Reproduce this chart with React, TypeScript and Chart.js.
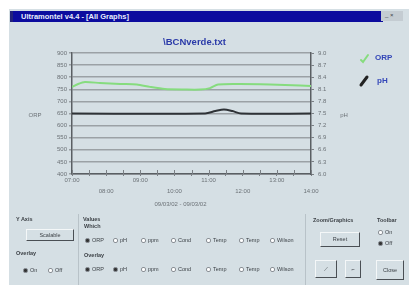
import React, { useEffect, useRef } from "react";
import { Chart, registerables } from "chart.js";
Chart.register(...registerables);

const windowTitle = "Ultramontel v4.4 - [All Graphs]";
const chartTitle = "\\BCNverde.txt";
const dateRange = "09/03/02 - 09/03/02";
const hourLabels = ["07:00", "08:00", "09:00", "10:00", "11:00", "12:00", "13:00", "14:00"];
const seriesNames = ["ORP", "pH"];
const orpTimes = [7.0, 7.18, 7.38, 7.82, 8.41, 8.9, 9.28, 9.72, 10.31, 10.75, 11.04, 11.28, 11.92, 12.8, 13.68, 14.0];
const orpValues = [760, 772, 780, 776, 772, 770, 760, 751, 749, 749, 755, 770, 772, 770, 766, 764];
const phTimes = [7.0, 10.9, 11.2, 11.45, 11.7, 11.95, 14.0];
const phValues = [7.5, 7.5, 7.56, 7.6, 7.56, 7.5, 7.5];
const orpRange = [400, 900, 50];
const phRange = [6.0, 9.0, 0.3];
const whichOptions = ["ORP", "pH", "ppm", "Cond", "Temp", "Temp", "Wilson"];

const BG = "#d5dfe4";
const FONT = '"Liberation Sans", Arial, sans-serif';

const overlayPlugin = {
  id: "overlay",
  afterDraw(chart: any) {
    const { ctx, chartArea: a, scales } = chart;
    ctx.save();
    const xs = scales.x;
    ctx.strokeStyle = "#7a7f84";
    ctx.lineWidth = 1;
    xs.ticks.forEach((t: any) => {
      const px = Math.round(xs.getPixelForValue(t.value)) + 0.5;
      ctx.beginPath();
      ctx.moveTo(px, a.bottom - 4);
      ctx.lineTo(px, a.bottom);
      ctx.stroke();
    });
    ctx.fillStyle = "#2a3aa8";
    ctx.font = `bold 9.5px ${FONT}`;
    ctx.textAlign = "center";
    ctx.textBaseline = "middle";
    ctx.fillText(chartTitle, (a.left + a.right) / 2 + 3, a.top - 11);
    ctx.fillStyle = "#6c7277";
    ctx.font = `6px ${FONT}`;
    const midY = (a.top + a.bottom) / 2 + 2;
    ctx.fillText(seriesNames[0], a.left - 37, midY);
    ctx.fillText(seriesNames[1], a.right + 33, midY);
    const lx = a.right + 50;
    ctx.lineCap = "round";
    ctx.strokeStyle = "#86dc7e";
    ctx.lineWidth = 2;
    ctx.beginPath();
    ctx.moveTo(lx, a.top + 7);
    ctx.lineTo(lx + 2, a.top + 9);
    ctx.lineTo(lx + 7, a.top + 2);
    ctx.stroke();
    ctx.strokeStyle = "#222";
    ctx.lineWidth = 3;
    ctx.beginPath();
    ctx.moveTo(lx, a.top + 32);
    ctx.lineTo(lx + 6, a.top + 24);
    ctx.stroke();
    ctx.fillStyle = "#3346b8";
    ctx.font = `bold 8px ${FONT}`;
    ctx.textAlign = "left";
    ctx.fillText(seriesNames[0], lx + 14, a.top + 5);
    ctx.fillText(seriesNames[1], lx + 16, a.top + 28);
    ctx.restore();
  },
};

function ChartCanvas() {
  const ref = useRef<HTMLCanvasElement>(null);
  useEffect(() => {
    if (!ref.current) return;
    const chart = new Chart(ref.current, {
      type: "line",
      data: {
        datasets: [
          {
            label: seriesNames[0],
            data: orpTimes.map((t, i) => ({ x: t, y: orpValues[i] })),
            borderColor: "#86dc7e",
            borderWidth: 2,
            pointRadius: 0,
            tension: 0.25,
            yAxisID: "yL",
          },
          {
            label: seriesNames[1],
            data: phTimes.map((t, i) => ({ x: t, y: phValues[i] })),
            borderColor: "#2e3236",
            borderWidth: 2,
            pointRadius: 0,
            tension: 0.3,
            yAxisID: "yR",
          },
        ],
      },
      options: {
        animation: false,
        responsive: false,
        maintainAspectRatio: false,
        layout: { padding: { left: 0, right: 0, top: 53, bottom: 0 } },
        plugins: { legend: { display: false }, title: { display: false }, tooltip: { enabled: false } },
        scales: {
          x: {
            type: "linear",
            min: 7,
            max: 14,
            afterFit: (s: any) => { s.height = 41; },
            grid: { drawOnChartArea: false, drawTicks: true, tickLength: 2, color: "#7a7f84" },
            border: { display: true, color: "#5a5f63", width: 1.5 },
            ticks: {
              stepSize: 0.5,
              autoSkip: false,
              maxRotation: 0,
              padding: -1,
              color: "#6c7277",
              font: { size: 6, family: FONT, lineHeight: "11px" },
              callback: (v: any) => {
                const n = Number(v);
                if (Math.abs(n - Math.round(n)) > 1e-6) return "";
                const idx = Math.round(n) - 7;
                const lab = hourLabels[idx];
                return idx % 2 === 0 ? lab : ["", lab];
              },
            },
          },
          yL: {
            type: "linear",
            position: "left",
            min: orpRange[0],
            max: orpRange[1],
            afterFit: (s: any) => { s.width = 72; },
            grid: { color: "#9ba1a5", lineWidth: 1.5, drawTicks: true, tickLength: 3 },
            border: { display: true, color: "#5a5f63", width: 1.5 },
            ticks: { stepSize: orpRange[2], padding: 2, color: "#6c7277", font: { size: 6, family: FONT } },
          },
          yR: {
            type: "linear",
            position: "right",
            min: phRange[0],
            max: phRange[1],
            afterFit: (s: any) => { s.width = 98; },
            grid: { drawOnChartArea: false, drawTicks: true, tickLength: 3, color: "#7a7f84" },
            border: { display: true, color: "#5a5f63", width: 1.5 },
            ticks: {
              stepSize: phRange[2],
              padding: 4,
              color: "#6c7277",
              font: { size: 6, family: FONT },
              callback: (v: any) => Number(v).toFixed(1),
            },
          },
        },
      },
      plugins: [overlayPlugin],
    });
    return () => chart.destroy();
  }, []);
  return (
    <canvas
      ref={ref}
      width={409}
      height={215}
      style={{ position: "absolute", left: 0, top: 0, width: 409, height: 215 }}
    />
  );
}

const txt: React.CSSProperties = { position: "absolute", fontFamily: FONT, fontSize: 5.5, color: "#3a3f44", whiteSpace: "nowrap", lineHeight: "7px" };

function Label({ x, y, t, bold }: { x: number; y: number; t: string; bold?: boolean }) {
  return <div style={{ ...txt, left: x, top: y, fontWeight: bold ? "bold" : "normal" }}>{t}</div>;
}

function Radio({ x, y, t, on }: { x: number; y: number; t: string; on?: boolean }) {
  return (
    <div style={{ ...txt, left: x, top: y, display: "flex", alignItems: "center" }}>
      <span style={{ display: "inline-block", width: 3, height: 3, borderRadius: 2, border: "1px solid #8a9096", background: on ? "#333" : "#fff", marginRight: 2 }} />
      {t}
    </div>
  );
}

function Button({ x, y, w, h, t }: { x: number; y: number; w: number; h: number; t: string }) {
  return (
    <div
      style={{
        ...txt,
        left: x,
        top: y,
        width: w - 2,
        height: h - 2,
        border: "1px solid",
        borderColor: "#f4f7f8 #4a4f54 #4a4f54 #f4f7f8",
        display: "flex",
        alignItems: "center",
        justifyContent: "center",
        background: BG,
      }}
    >
      {t}
    </div>
  );
}

export default function App() {
  const whichX = [85, 113, 141, 171, 206, 239, 270];
  return (
    <div style={{ position: "fixed", left: 0, top: 0, width: 409, height: 285, background: "#ffffff", overflow: "hidden" }}>
      <div style={{ position: "absolute", left: 9, top: 9, width: 400, height: 276, background: BG }} />
      <div style={{ position: "absolute", left: 10, top: 11, width: 370, height: 11, background: "#0c0c9e", borderLeft: "3px solid #22227a" }}>
        <div style={{ ...txt, left: 8, top: 2, color: "#e8ecff", fontWeight: "bold", fontSize: 7.5, lineHeight: "8px" }}>{windowTitle}</div>
      </div>
      <div style={{ position: "absolute", left: 381, top: 11, width: 22, height: 10, background: "#c4ccd2" }}>
        <div style={{ ...txt, left: 4, top: 1, fontSize: 6 }}>_ ×</div>
      </div>
      <ChartCanvas />
      <div style={{ ...txt, left: 0, width: 361, top: 201, textAlign: "center", color: "#6c7277", fontSize: 6 }}>{dateRange}</div>
      <div style={{ position: "absolute", left: 78, top: 214, width: 1, height: 71, background: "#b8c2c8" }} />
      <div style={{ position: "absolute", left: 305, top: 214, width: 1, height: 71, background: "#b8c2c8" }} />
      <Label x={16} y={216} t="Y Axis" bold />
      <Button x={26} y={229} w={48} h={12} t="Scalable" />
      <Label x={16} y={250} t="Overlay" bold />
      <Radio x={23} y={267} t="On" on />
      <Radio x={48} y={267} t="Off" />
      <Label x={83} y={216} t="Values" bold />
      <Label x={84} y={223} t="Which" bold />
      {whichOptions.map((o, i) => (
        <Radio key={"w" + i} x={whichX[i]} y={237} t={o} on={i === 0} />
      ))}
      <Label x={84} y={252} t="Overlay" bold />
      {whichOptions.map((o, i) => (
        <Radio key={"o" + i} x={whichX[i]} y={266} t={o} on={i < 2} />
      ))}
      <Label x={313} y={217} t="Zoom/Graphics" bold />
      <Button x={320} y={232} w={40} h={15} t="Reset" />
      <Button x={315} y={260} w={22} h={18} t="⟋" />
      <Button x={345} y={260} w={16} h={18} t="⌐" />
      <Label x={377} y={217} t="Toolbar" bold />
      <Radio x={378} y={229} t="On" />
      <Radio x={378} y={240} t="Off" on />
      <Button x={376} y={260} w={28} h={20} t="Close" />
    </div>
  );
}
